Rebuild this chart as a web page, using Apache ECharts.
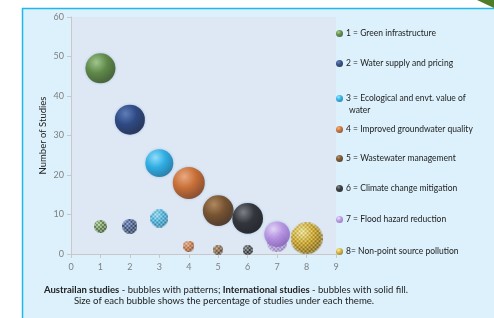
<!DOCTYPE html>
<html>
<head>
<meta charset="utf-8">
<script src="https://cdn.jsdelivr.net/npm/echarts@6/dist/echarts.min.js"></script>
<style>
  html, body { margin: 0; padding: 0; background: #fff; }
  #chart { width: 494px; height: 318px; }
</style>
</head>
<body>
<div id="chart"></div>
<script>
// themes (legend labels)
const themes = [
  "1 = Green infrastructure",
  "2 = Water supply and pricing",
  "3 = Ecological and envt. value of water",
  "4 = Improved groundwater quality",
  "5 = Wastewater management",
  "6 = Climate change mitigation",
  "7 = Flood hazard reduction",
  "8= Non-point source pollution"
]
const themeX = [1, 2, 3, 4, 5, 6, 7, 8]

// international studies (solid bubbles)
const intlStudies = [47, 34, 23, 18, 11, 9, 5, 4]
const intlPct = [22, 22, 19, 25, 23, 23, 16, 20]

// australian studies (patterned bubbles)
const ausStudies = [7, 7, 9, 2, 1, 1, 3, 4]
const ausPct = [4, 5.5, 8, 3, 2.2, 2.4, 10, 25]

const colors = [
  ["#9cc878", "#4c7a24", "#27420e"],
  ["#4c6cb0", "#0f2c6c", "#050f30"],
  ["#8ae4ff", "#10a8e4", "#07628f"],
  ["#f7a468", "#cf5b0e", "#6e2a04"],
  ["#b07a40", "#6a3806", "#2e1500"],
  ["#707070", "#141414", "#000000"],
  ["#ecd8fb", "#b98be2", "#8258b2"],
  ["#fff090", "#d8aa14", "#7e5e04"]
]

const sphere = (c) => ({
  type: "radial", x: 0.36, y: 0.3, r: 0.8,
  colorStops: [
    { offset: 0, color: c[0] },
    { offset: 0.45, color: c[1] },
    { offset: 1, color: c[2] }
  ]
})

const bubbleSize = (pct) => 6.4 * Math.sqrt(pct)

// shaded sphere with a fine checker pattern, used as the symbol image of Australian bubbles
const patternedSphere = (c, d, alpha) => {
  const s = Math.round(d)
  const cv = document.createElement("canvas")
  cv.width = s
  cv.height = s
  const ctx = cv.getContext("2d")
  ctx.globalAlpha = alpha
  const g = ctx.createRadialGradient(s * 0.36, s * 0.3, 0, s * 0.36, s * 0.3, s * 0.8)
  g.addColorStop(0, c[0])
  g.addColorStop(0.45, c[1])
  g.addColorStop(1, c[2])
  ctx.beginPath()
  ctx.arc(s / 2, s / 2, s / 2, 0, Math.PI * 2)
  ctx.fillStyle = g
  ctx.fill()
  ctx.save()
  ctx.clip()
  for (let y = 0; y < s; y += 2) {
    for (let x = 0; x < s; x += 2) {
      ctx.fillStyle = ((x + y) / 2) % 2 === 0 ? "rgba(255,255,255,0.4)" : "rgba(0,0,0,0.2)"
      ctx.fillRect(x, y, 2, 2)
    }
  }
  ctx.restore()
  return "image://" + cv.toDataURL()
}

const series = []
themes.forEach((name, i) => {
  series.push({
    name: "Aus " + name,
    type: "scatter",
    z: i === 7 ? 4 : 2,
    symbolSize: (v) => bubbleSize(v[2]),
    data: [{
      value: [themeX[i], ausStudies[i], ausPct[i]],
      symbol: patternedSphere(colors[i], bubbleSize(ausPct[i]), i === 6 ? 0.8 : 1)
    }],
    itemStyle: { color: colors[i][1] }
  })
})
themes.forEach((name, i) => {
  series.push({
    name: name,
    type: "scatter",
    z: 3,
    symbolSize: (v) => bubbleSize(v[2]),
    data: [[themeX[i], intlStudies[i], intlPct[i]]],
    itemStyle: {
      color: sphere(colors[i]),
      shadowBlur: 3,
      shadowColor: "rgba(120,150,200,0.6)"
    }
  })
})

const legendTops = [29, 59, 94, 125, 154, 184, 215, 247]
const legends = themes.map((name, i) => ({
  data: [{ name, itemStyle: { color: sphere(colors[i]) } }],
  left: 336,
  top: legendTops[i],
  padding: 0,
  orient: "vertical",
  icon: "circle",
  itemWidth: 7,
  itemHeight: 7,
  selectedMode: false,
  formatter: (n) => n.replace(" water", ""),
  textStyle: { fontFamily: "Lato", fontSize: 8.5, color: "#222", padding: [0, 0, 0, -2] }
}))

const myChart = echarts.init(document.getElementById("chart"))
myChart.setOption({
  animation: false,
  backgroundColor: "#ffffff",
  graphic: [
    {
      type: "rect", z: -10, silent: true,
      shape: { x: 22.5, y: 8.5, width: 500, height: 330 },
      style: { fill: "#dcf1fc", stroke: "#1cb9ea", lineWidth: 1.5 }
    },
    {
      type: "polygon", z: -9, silent: true,
      shape: { points: [[477, 0], [494, 0], [494, 8]] },
      style: { fill: "#4e7d2a" }
    },
    {
      type: "text", silent: true, left: 349, top: 106,
      style: { text: "water", font: "8.5px Lato", fill: "#222" }
    },
    {
      type: "text", silent: true, left: 44, top: 285,
      style: {
        text: "{b|Austrailan studies} - bubbles with patterns; {b|International studies} - bubbles with solid fill.",
        font: "9.5px Lato", fill: "#222",
        rich: { b: { fontWeight: "bold", fontSize: 9.5, fontFamily: "Lato", fill: "#222" } }
      }
    },
    {
      type: "text", silent: true, x: 224, y: 301,
      style: {
        text: "Size of each bubble shows the percentage of studies under each theme.",
        align: "center", verticalAlign: "middle",
        font: "9.6px Lato", fill: "#222"
      }
    }
  ],
  legend: legends,
  grid: {
    left: 71, right: 158, top: 17, bottom: 64,
    show: true, backgroundColor: "#dde8f4", borderWidth: 0
  },
  xAxis: {
    type: "value", min: 0, max: 9, interval: 1,
    axisLine: { show: true, lineStyle: { color: "#c8c8c8" } },
    axisTick: { show: true, length: 4, lineStyle: { color: "#c8c8c8" } },
    axisLabel: { color: "#7f7f7f", fontSize: 9, fontFamily: "Lato", margin: 9 },
    splitLine: { show: false }
  },
  yAxis: {
    type: "value", min: 0, max: 60, interval: 10,
    name: "Number of Studies",
    nameLocation: "middle",
    nameGap: 23,
    nameMoveOverlap: false,
    nameTextStyle: { color: "#222", fontSize: 9.5, fontFamily: "Lato" },
    axisLine: { show: true, lineStyle: { color: "#c8c8c8" } },
    axisTick: { show: true, length: 4, lineStyle: { color: "#c8c8c8" } },
    axisLabel: { color: "#7f7f7f", fontSize: 9, fontFamily: "Lato", margin: 7 },
    splitLine: { show: false }
  },
  series
})

window.addEventListener("resize", () => {
  myChart.resize()
})
</script>
</body>
</html>
